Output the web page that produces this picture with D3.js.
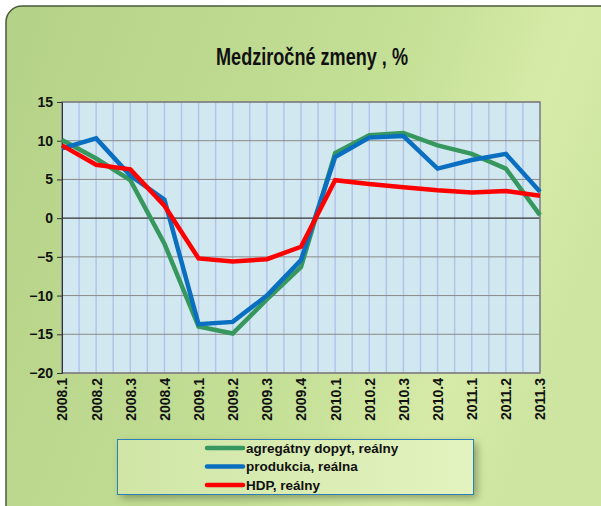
<!DOCTYPE html>
<html>
<head>
<meta charset="utf-8">
<script src="https://cdn.jsdelivr.net/npm/d3@7"></script>
<style>
body { margin: 0; background: #fff; }
text { font-family: "Liberation Sans", Arial, sans-serif; }
</style>
</head>
<body>
<script>
// quarters
var quarters = ["2008.1","2008.2","2008.3","2008.4","2009.1","2009.2","2009.3","2009.4",
                "2010.1","2010.2","2010.3","2010.4","2011.1","2011.2","2011.3"];
// series values, % y/y
var dopyt = [10.1, 7.7, 4.9, -3.3, -14.0, -14.9, -10.5, -6.3, 8.4, 10.7, 11.0, 9.4, 8.3, 6.4, 0.4];
var produkcia = [9.0, 10.3, 5.5, 2.4, -13.7, -13.4, -10.0, -5.4, 7.9, 10.4, 10.6, 6.4, 7.5, 8.3, 3.4];
var hdp = [9.4, 6.9, 6.3, 1.6, -5.2, -5.6, -5.3, -3.7, 4.9, 4.4, 4.0, 3.6, 3.3, 3.5, 2.9];
var yTicks = [15, 10, 5, 0, -5, -10, -15, -20];
var seriesNames = ["agregátny  dopyt, reálny", "produkcia, reálna", "HDP, reálny"];

var W = 601, H = 506;
var svg = d3.select("body").append("svg").attr("width", W).attr("height", H);
var defs = svg.append("defs");

// background gradient
var bg = defs.append("linearGradient").attr("id", "bg").attr("x1", 0).attr("y1", 0).attr("x2", 1).attr("y2", 0.3);
bg.append("stop").attr("offset", "0%").attr("stop-color", "#b4d287");
bg.append("stop").attr("offset", "60%").attr("stop-color", "#c4df96");
bg.append("stop").attr("offset", "85%").attr("stop-color", "#d6eba8");
bg.append("stop").attr("offset", "100%").attr("stop-color", "#cde5a0");

var lg = defs.append("linearGradient").attr("id", "lg").attr("x1", 0).attr("y1", 0).attr("x2", 1).attr("y2", 0);
lg.append("stop").attr("offset", "0%").attr("stop-color", "#cfe5a6");
lg.append("stop").attr("offset", "100%").attr("stop-color", "#e3f3bf");

var sh = defs.append("filter").attr("id", "sh").attr("x", "-10%").attr("y", "-30%").attr("width", "120%").attr("height", "160%");
sh.append("feGaussianBlur").attr("stdDeviation", 4);

svg.append("rect").attr("x", 6).attr("y", 6).attr("width", W + 20).attr("height", H + 20)
   .attr("rx", 16).attr("fill", "url(#bg)").attr("stroke", "#4a5a3a").attr("stroke-width", 1.5);

svg.append("text").attr("x", 312).attr("y", 65).attr("text-anchor", "middle")
   .style("font-size", "23px").style("font-weight", "bold").attr("fill", "#111")
   .attr("textLength", 192).attr("lengthAdjust", "spacingAndGlyphs")
   .text("Medziročné zmeny  , %");

var pLeft = 62, pRight = 540, pTop = 102, pBottom = 373;

var x = d3.scalePoint().domain(quarters).range([pLeft, pRight]);
var y = d3.scaleLinear().domain([-20, 15]).range([pBottom, pTop]);
var step = x.step();

svg.append("rect").attr("x", pLeft).attr("y", pTop).attr("width", pRight - pLeft).attr("height", pBottom - pTop)
   .attr("fill", "#d2e8f0");

// vertical grid at every half quarter
var vg = d3.range(0, quarters.length * 2 - 1).map(function (i) { return pLeft + i * step / 2; });
svg.selectAll(".vg").data(vg).enter().append("line")
   .attr("x1", function (d) { return d; }).attr("x2", function (d) { return d; })
   .attr("y1", pTop).attr("y2", pBottom)
   .attr("stroke", "#b3c4ea").attr("stroke-width", 1.5);

svg.selectAll(".hg").data(yTicks).enter().append("line")
   .attr("x1", pLeft).attr("x2", pRight)
   .attr("y1", function (d) { return y(d); }).attr("y2", function (d) { return y(d); })
   .attr("stroke", function (d) { return d === 0 ? "#333" : "#8a8a8a"; })
   .attr("stroke-width", function (d) { return d === 0 ? 1.2 : 1; });

svg.append("rect").attr("x", pLeft).attr("y", pTop).attr("width", pRight - pLeft).attr("height", pBottom - pTop)
   .attr("fill", "none").attr("stroke", "#808080").attr("stroke-width", 1.5);

// y axis
var yAxis = svg.append("g").attr("transform", "translate(" + pLeft + ",0)")
   .call(d3.axisLeft(y).tickValues(yTicks).tickSize(5).tickPadding(4));
yAxis.select(".domain").attr("stroke", "#333");
yAxis.selectAll(".tick line").attr("stroke", "#333");
yAxis.selectAll("text").style("font-size", "14px").style("font-weight", "bold").attr("fill", "#111");

// x axis labels, rotated
var xAxis = svg.append("g").attr("transform", "translate(0," + pBottom + ")")
   .call(d3.axisBottom(x).tickSize(0));
xAxis.select(".domain").remove();
xAxis.selectAll("text")
   .style("font-size", "14px").style("font-weight", "bold").attr("fill", "#111")
   .attr("transform", "rotate(-90)").attr("text-anchor", "end")
   .attr("x", -5).attr("y", 0).attr("dy", "0.35em");

var line = d3.line().x(function (d, i) { return x(quarters[i]); }).y(function (d) { return y(d); });

var series = [
  { name: seriesNames[0], values: dopyt, color: "#36985e" },
  { name: seriesNames[1], values: produkcia, color: "#0a6fc0" },
  { name: seriesNames[2], values: hdp, color: "#ff0000" }
];

svg.selectAll(".ser").data(series).enter().append("path")
   .attr("d", function (d) { return line(d.values); })
   .attr("fill", "none")
   .attr("stroke", function (d) { return d.color; })
   .attr("stroke-width", 4.5)
   .attr("stroke-linejoin", "miter");

// legend
svg.append("rect").attr("x", 121).attr("y", 443).attr("width", 356).attr("height", 55)
   .attr("fill", "#5a6a40").attr("opacity", 0.6).attr("filter", "url(#sh)");
svg.append("rect").attr("x", 117.5).attr("y", 439.5).attr("width", 356).attr("height", 55)
   .attr("fill", "url(#lg)").attr("stroke", "#2e7fb6").attr("stroke-width", 1);

var leg = svg.selectAll(".leg").data(series).enter().append("g")
   .attr("transform", function (d, i) { return "translate(207," + (448 + i * 18.5) + ")"; });
leg.append("line").attr("x1", 0).attr("x2", 36).attr("y1", 0).attr("y2", 0)
   .attr("stroke", function (d) { return d.color; }).attr("stroke-width", 4.5).attr("stroke-linecap", "round");
leg.append("text").attr("x", 39).attr("y", 0).attr("dy", "0.35em")
   .style("font-size", "13.5px").style("font-weight", "bold").attr("fill", "#111")
   .text(function (d) { return d.name; });
</script>
</body>
</html>
